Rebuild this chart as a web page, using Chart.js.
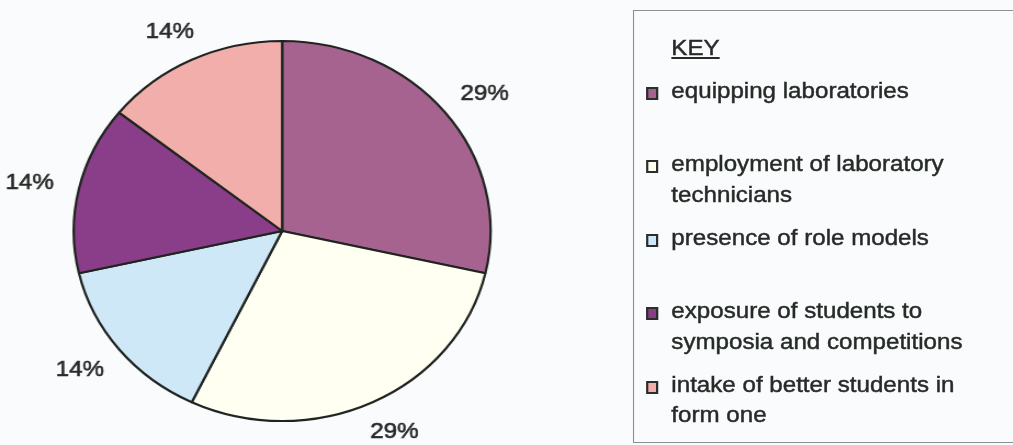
<!DOCTYPE html>
<html>
<head>
<meta charset="utf-8">
<script src="https://cdn.jsdelivr.net/npm/chart.js@4.4.0/dist/chart.umd.min.js"></script>
<style>
  html, body { margin: 0; padding: 0; background: #f9fbfc; overflow: hidden; }
  /* the scan is a little wider than tall, so stretch the whole page */
  #pagina {
    position: absolute; left: 0; top: 0;
    width: 924px; height: 445px;
    transform: scaleX(1.097); transform-origin: 0 0;
    font-family: "Liberation Sans", Arial, sans-serif;
    color: #262b28;
  }
  #grafico { position: absolute; left: 0; top: 0; }
  #chave {
    position: absolute; left: 577px; top: 9.5px;
    width: 400px; height: 431px;
    border: 1px solid #8c918e; border-right: none;
    font-size: 22px; line-height: 30.5px;
    -webkit-text-stroke: 0.45px #262b28;
  }
  #titulo { position: absolute; left: 34px; top: 22px; text-decoration: underline; text-underline-offset: 2px; }
  .item { position: absolute; left: 34px; white-space: nowrap; }
  .quadrado {
    position: absolute; left: -23px; top: 11.2px;
    width: 11px; height: 13px; box-sizing: border-box;
    border: 2px solid #2a2f2c;
  }
</style>
</head>
<body>
<div id="pagina">
  <canvas id="grafico" width="560" height="445"></canvas>
  <div id="chave"><div id="titulo">KEY</div></div>
</div>
<script>
// dados
var categorias = [
    'equipping laboratories',
    ['employment of laboratory', 'technicians'],
    'presence of role models',
    ['exposure of students to', 'symposia and competitions'],
    ['intake of better students in', 'form one']
];
var porcentagens = [28.6, 28.6, 14.3, 14.3, 14.3];
var cores = ['#a7638f', '#fffff2', '#cfe8f8', '#8a3d88', '#f1aeab'];

// legenda (KEY) montada a partir dos mesmos arrays
var chave = document.getElementById('chave');
for (let i = 0; i < categorias.length; i++) {
    var item = document.createElement('div');
    item.className = 'item';
    item.style.top = (65 + i * 73.5) + 'px';
    var linhas = Array.isArray(categorias[i]) ? categorias[i] : [categorias[i]];
    item.innerHTML = '<span class="quadrado" style="background:' + cores[i] + '"></span>' + linhas.join('<br>');
    chave.appendChild(item);
}

// rótulos de % fora das fatias
var rotulos = {
    id: 'rotulos',
    afterDatasetsDraw(chart) {
        var ctx = chart.ctx;
        var meta = chart.getDatasetMeta(0);
        ctx.save();
        ctx.font = '22px "Liberation Sans", Arial, sans-serif';
        ctx.fillStyle = '#262b28';
        ctx.strokeStyle = '#262b28';
        ctx.lineWidth = 0.6;
        ctx.textAlign = 'center';
        ctx.textBaseline = 'middle';
        meta.data.forEach((arco, i) => {
            var p = arco.getProps(['x', 'y', 'startAngle', 'endAngle', 'outerRadius'], true);
            var meio = (p.startAngle + p.endAngle) / 2;
            var ux = Math.cos(meio), uy = Math.sin(meio);
            var texto = Math.round(porcentagens[i]) + '%';
            var w = ctx.measureText(texto).width;
            var d = p.outerRadius + 24;
            var x = p.x + ux * d + ux * w / 2;
            var y = p.y + uy * d + uy * 8 + 1;
            ctx.fillText(texto, x, y);
            ctx.strokeText(texto, x, y);
        });
        ctx.restore();
    }
};

var meuGrafico = new Chart(document.getElementById('grafico'), {
    type: 'pie',
    data: {
        labels: categorias,
        datasets: [{
            data: porcentagens,
            backgroundColor: cores,
            borderColor: '#1f2420',
            borderWidth: 2.2,
            radius: 190
        }]
    },
    options: {
        responsive: false,
        animation: false,
        layout: { padding: { left: 0, right: 45.6, top: 17, bottom: 0 } },
        plugins: {
            legend: { display: false },
            tooltip: { enabled: false }
        }
    },
    plugins: [rotulos]
});
</script>
</body>
</html>
